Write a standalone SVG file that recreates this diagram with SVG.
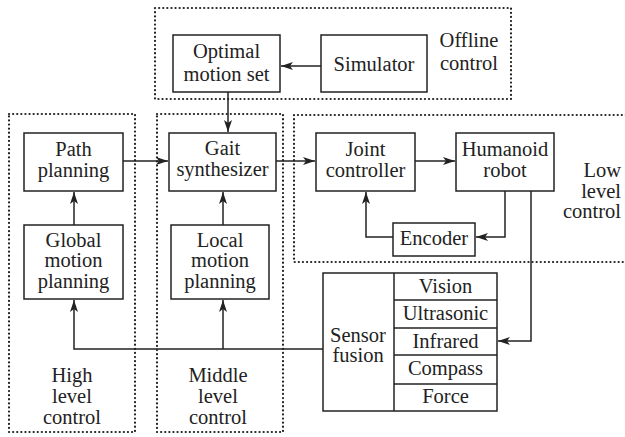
<svg xmlns="http://www.w3.org/2000/svg" width="625" height="437" viewBox="0 0 625 437">
<defs>
<style>
.box{fill:#fff;stroke:#222;stroke-width:1.5}
.grp{fill:none;stroke:#222;stroke-width:2.2;stroke-dasharray:0.1 4;stroke-linecap:round}
.ln{fill:none;stroke:#222;stroke-width:1.5}
text{font-family:"Liberation Serif","Times New Roman",serif;font-size:20.5px;fill:#222;text-anchor:middle}
.r{text-anchor:end}
</style>
<marker id="ah" viewBox="0 0 12 8" refX="12" refY="4" markerWidth="12" markerHeight="8" markerUnits="userSpaceOnUse" orient="auto">
<path d="M0,0 L12,4 L0,8 L3,4 Z" fill="#222"/>
</marker>
</defs>
<rect width="625" height="437" fill="#fff"/>
<g id="groups">
<rect class="grp" x="155" y="8" width="356" height="91"/>
<rect class="grp" x="9" y="114" width="126" height="318"/>
<rect class="grp" x="157" y="114" width="126" height="318"/>
<path class="grp" d="M626,115 H294 V262 H626"/>
</g>
<g id="connectors">
<line class="ln" x1="321" y1="66" x2="281" y2="66" marker-end="url(#ah)"/>
<line class="ln" x1="228" y1="92" x2="228" y2="132" marker-end="url(#ah)"/>
<line class="ln" x1="123" y1="161" x2="168" y2="161" marker-end="url(#ah)"/>
<line class="ln" x1="276" y1="161" x2="315" y2="161" marker-end="url(#ah)"/>
<line class="ln" x1="415" y1="161" x2="455" y2="161" marker-end="url(#ah)"/>
<line class="ln" x1="74" y1="225" x2="74" y2="192" marker-end="url(#ah)"/>
<line class="ln" x1="223" y1="225" x2="223" y2="192" marker-end="url(#ah)"/>
<path class="ln" d="M505,191 V237 H476" marker-end="url(#ah)"/>
<path class="ln" d="M393,237 H366 V192" marker-end="url(#ah)"/>
<path class="ln" d="M531,191 V341 H498" marker-end="url(#ah)"/>
<path class="ln" d="M323,349 H74 V300" marker-end="url(#ah)"/>
<line class="ln" x1="223" y1="349" x2="223" y2="300" marker-end="url(#ah)"/>
</g>
<g id="optimal">
<rect class="box" x="173" y="35" width="107" height="57"/>
<text x="226.5" y="58">Optimal</text>
<text x="226.5" y="81">motion set</text>
</g>
<g id="simulator">
<rect class="box" x="321" y="35" width="106" height="57"/>
<text x="374" y="71">Simulator</text>
</g>
<g id="offline-label">
<text x="469" y="47">Offline</text>
<text x="469" y="70">control</text>
</g>
<g id="path">
<rect class="box" x="24" y="133" width="99" height="58"/>
<text x="73.5" y="156">Path</text>
<text x="73.5" y="177">planning</text>
</g>
<g id="global">
<rect class="box" x="24" y="225" width="99" height="74"/>
<text x="73.5" y="247">Global</text>
<text x="73.5" y="267">motion</text>
<text x="73.5" y="288">planning</text>
</g>
<g id="gait">
<rect class="box" x="169" y="133" width="107" height="58"/>
<text x="222.5" y="155">Gait</text>
<text x="222.5" y="176">synthesizer</text>
</g>
<g id="local">
<rect class="box" x="171" y="225" width="98" height="74"/>
<text x="220" y="247">Local</text>
<text x="220" y="267">motion</text>
<text x="220" y="288">planning</text>
</g>
<g id="joint">
<rect class="box" x="316" y="133" width="99" height="58"/>
<text x="365.5" y="156">Joint</text>
<text x="365.5" y="177">controller</text>
</g>
<g id="humanoid">
<rect class="box" x="456" y="133" width="98" height="58"/>
<text x="505" y="156">Humanoid</text>
<text x="505" y="177">robot</text>
</g>
<g id="encoder">
<rect class="box" x="393" y="223" width="82" height="33"/>
<text x="434" y="245">Encoder</text>
</g>
<g id="low-label">
<text class="r" x="621" y="177">Low</text>
<text class="r" x="621" y="198">level</text>
<text class="r" x="621" y="218">control</text>
</g>
<g id="sensor">
<rect class="box" x="323" y="273" width="174" height="138"/>
<line class="ln" x1="394" y1="273" x2="394" y2="411"/>
<line class="ln" x1="394" y1="300" x2="497" y2="300"/>
<line class="ln" x1="394" y1="328" x2="497" y2="328"/>
<line class="ln" x1="394" y1="355" x2="497" y2="355"/>
<line class="ln" x1="394" y1="384" x2="497" y2="384"/>
<text x="358" y="342">Sensor</text>
<text x="358" y="362">fusion</text>
<text x="445.5" y="293">Vision</text>
<text x="445.5" y="320">Ultrasonic</text>
<text x="445.5" y="348">Infrared</text>
<text x="445.5" y="375">Compass</text>
<text x="445.5" y="403">Force</text>
</g>
<g id="high-label">
<text x="72" y="382">High</text>
<text x="72" y="403">level</text>
<text x="72" y="424">control</text>
</g>
<g id="middle-label">
<text x="218" y="382">Middle</text>
<text x="218" y="403">level</text>
<text x="218" y="424">control</text>
</g>
</svg>
